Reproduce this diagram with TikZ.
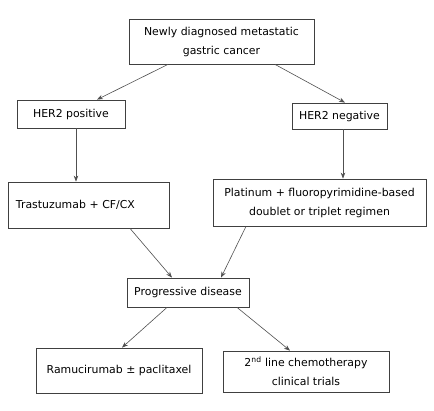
\documentclass[tikz,border=0pt]{standalone}
\usepackage{fontspec}
\setmainfont{DejaVu Sans}
\usetikzlibrary{arrows.meta}
\definecolor{boxc}{HTML}{404040}
\definecolor{arrc}{HTML}{505050}
\tikzset{
  box/.style={draw=boxc, line width=0.8pt, inner sep=0pt, align=center,
    font=\fontsize{10.9}{19}\selectfont, text=black},
  arr/.style={draw=arrc, line width=0.6pt, -{Stealth[length=6pt,width=4.5pt]}}
}
\begin{document}
\begin{tikzpicture}[x=1pt,y=-1pt]
\useasboundingbox[fill=white] (0,0) rectangle (434,411);
\node[box, minimum width=185, minimum height=45] (top) at (221.5,41.5) {Newly diagnosed metastatic\\gastric cancer};
\node[box, minimum width=108, minimum height=28] (pos) at (71,114) {HER2 positive};
\node[box, minimum width=95, minimum height=26] (neg) at (339.5,116) {HER2 negative};
\node[box, minimum width=161, minimum height=46, text width=145, inner xsep=8pt, align=left] (tras) at (88.5,205) {Trastuzumab + CF/CX};
\node[box, minimum width=213, minimum height=47] (plat) at (319.5,202.5) {Platinum + fluoropyrimidine-based\\doublet or triplet regimen};
\node[box, minimum width=122, minimum height=29] (prog) at (188,292.5) {Progressive disease};
\node[box, minimum width=166, minimum height=45] (ramu) at (119,370.5) {Ramucirumab ± paclitaxel};
\node[box, minimum width=166, minimum height=41] (sec) at (306,371.5) {2\textsuperscript{nd} line chemotherapy\\clinical trials};
\draw[arr] ([xshift=-53.5pt]top.south) -- ([xshift=26pt]pos.north);
\draw[arr] ([xshift=53.5pt]top.south) -- ([xshift=5.5pt]neg.north);
\draw[arr] ([xshift=5pt]pos.south) -- ([xshift=-12.5pt]tras.north);
\draw[arr] ([xshift=3.5pt]neg.south) -- ([xshift=23.5pt]plat.north);
\draw[arr] ([xshift=41.5pt]tras.south) -- ([xshift=-16pt]prog.north);
\draw[arr] ([xshift=-73.5pt]plat.south) -- ([xshift=33pt]prog.north);
\draw[arr] ([xshift=-21pt]prog.south) -- ([xshift=3pt]ramu.north);
\draw[arr] ([xshift=49pt]prog.south) -- ([xshift=-16pt]sec.north);
\end{tikzpicture}
\end{document}
